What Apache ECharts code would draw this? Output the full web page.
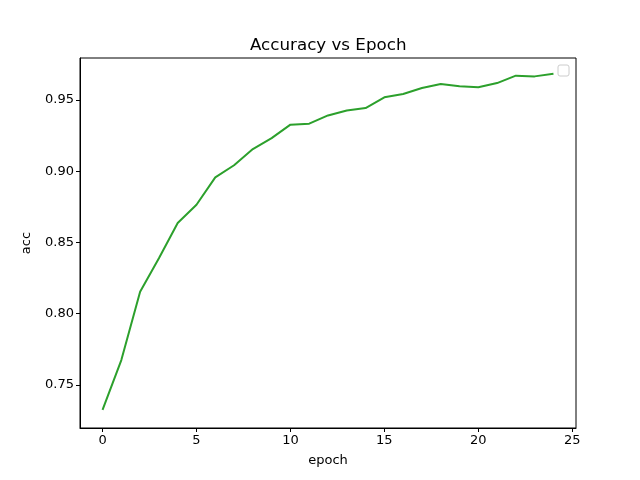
<!DOCTYPE html>
<html><head><meta charset="utf-8">
<script src="https://cdn.jsdelivr.net/npm/echarts@6/dist/echarts.min.js"></script>
<style>html,body{margin:0;padding:0;background:#fff}#c{width:640px;height:480px}</style>
</head><body><div id="c"></div>
<script>
const epochs = [0,1,2,3,4,5,6,7,8,9,10,11,12,13,14,15,16,17,18,19,20,21,22,23,24];
const acc = [0.7325,0.7675,0.8155,0.839,0.8637,0.8765,0.8957,0.9042,0.9156,0.9233,0.9327,0.9334,0.9392,0.9427,0.9444,0.9519,0.9542,0.9584,0.9612,0.9596,0.9589,0.9619,0.9671,0.9666,0.9685];
const xTicks = [0,5,10,15,20,25];
const yTicks = [0.75,0.80,0.85,0.90,0.95];
const font = 'DejaVu Sans';
const chart = echarts.init(document.getElementById('c'), null, {renderer:'canvas'});
chart.setOption({
  animation:false,
  graphic:[
    {type:'text', left:250, top:37, style:{text:'Accuracy vs Epoch', font:'16.7px "DejaVu Sans"', fill:'#000'}},
    {type:'rect', shape:{x:558, y:65, width:11, height:11, r:2}, style:{fill:'#fff', stroke:'#ccc', lineWidth:1}}
  ],
  grid:{left:80, right:64, top:58, bottom:52, show:true, borderColor:'#000', borderWidth:1, backgroundColor:'transparent'},
  xAxis:{type:'value', min:-1.2, max:25.2, name:'epoch', nameLocation:'middle', nameGap:26,
    nameTextStyle:{fontFamily:font, fontSize:13, color:'#000'},
    axisLine:{show:true, onZero:false, lineStyle:{color:'#000', width:1}},
    axisTick:{show:true, length:4, inside:false, customValues:xTicks, lineStyle:{color:'#000'}},
    axisLabel:{customValues:xTicks, fontFamily:font, fontSize:13, color:'#000', margin:6, formatter:v=>String(v)},
    splitLine:{show:false}},
  yAxis:{type:'value', min:0.7198, max:0.9795, name:'acc', nameLocation:'middle', nameGap:47, nameRotate:90,
    nameTextStyle:{fontFamily:font, fontSize:13, color:'#000'},
    axisLine:{show:true, onZero:false, lineStyle:{color:'#000', width:1}},
    axisTick:{show:true, length:4, inside:false, customValues:yTicks, lineStyle:{color:'#000'}},
    axisLabel:{customValues:yTicks, fontFamily:font, fontSize:13, color:'#000', margin:6, formatter:v=>v.toFixed(2)},
    splitLine:{show:false}},
  series:[{type:'line', data:epochs.map((e,i)=>[e,acc[i]]), showSymbol:false, symbol:'none',
    lineStyle:{color:'#2ca02c', width:2}, itemStyle:{color:'#2ca02c'}}]
});
</script></body></html>
